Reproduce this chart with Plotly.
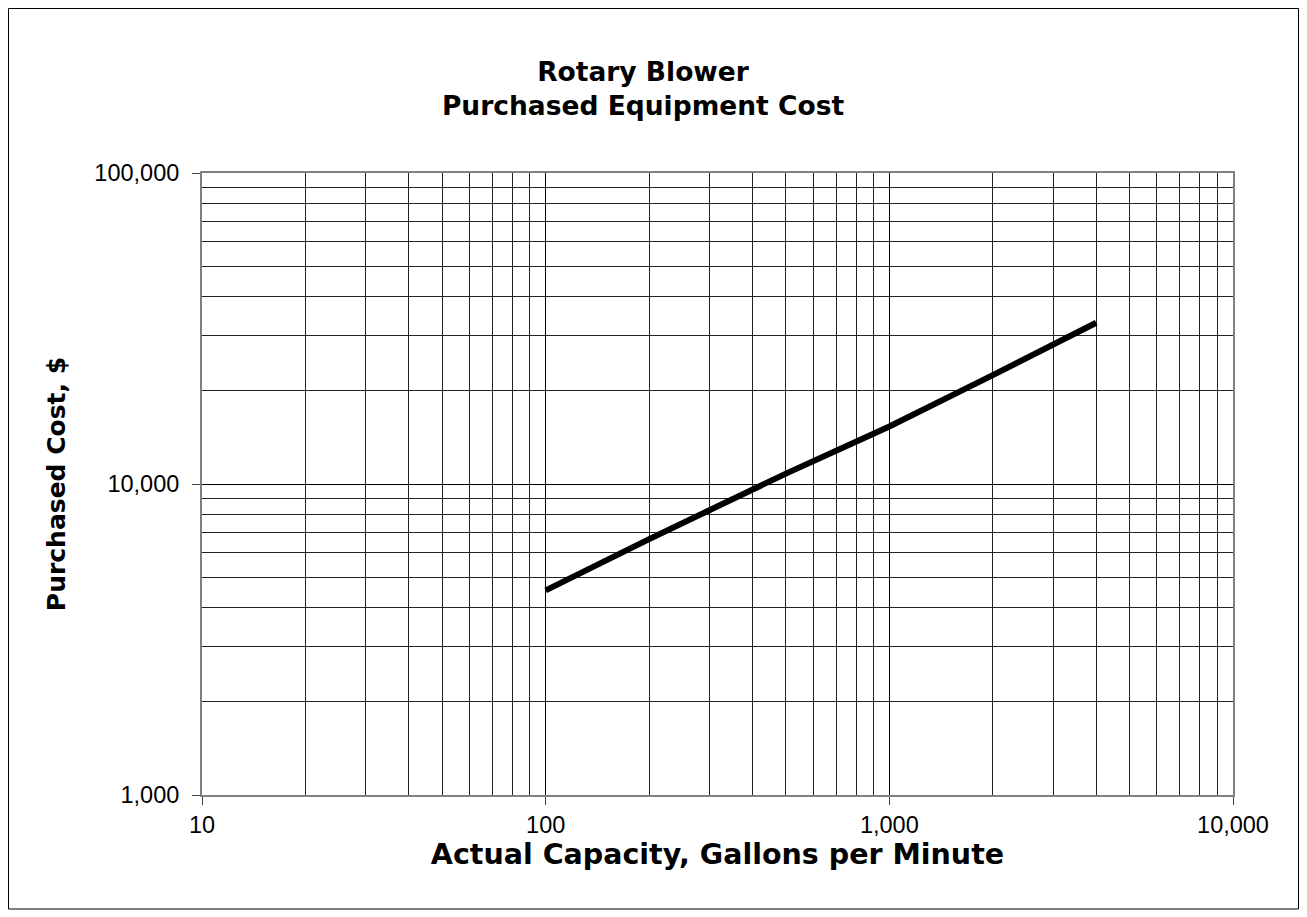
import plotly.graph_objects as go

# Data
capacity_gpm = [100, 200, 500, 1000, 2000, 4000]
purchased_cost = [4550, 6650, 10800, 15300, 22400, 33000]

x_tick_vals = [10, 100, 1000, 10000]
x_tick_text = ["10", "100", "1,000", "10,000"]
y_tick_vals = [1000, 10000, 100000]
y_tick_text = ["1,000", "10,000", "100,000"]

FONT = "Liberation Sans, Arial, sans-serif"
BOLD = "DejaVu Sans, Liberation Sans, Arial, sans-serif"

fig = go.Figure()
fig.add_trace(go.Scatter(
    x=capacity_gpm, y=purchased_cost, mode="lines",
    line=dict(color="black", width=6), showlegend=False, hoverinfo="x+y",
))

# page body has an 8px margin, so the figure origin is at (8, 8) on screen
W, H = 1299, 909
L, T = 194, 165
R, B = 74, 122
pw, ph = W - L - R, H - T - B

axis_common = dict(
    type="log", showline=True, linecolor="#808080", linewidth=2, mirror=True,
    ticks="outside", ticklen=8, tickcolor="#444444", tickwidth=1,
    showgrid=True, gridcolor="black", gridwidth=1,
    minor=dict(dtick="D1", showgrid=True, gridcolor="#222222", gridwidth=1, ticks=""),
    tickfont=dict(family=FONT, size=23.5, color="black"), zeroline=False,
)

fig.update_xaxes(
    **axis_common, range=[1, 4], tickvals=x_tick_vals, ticktext=x_tick_text,
    ticklabelstandoff=0,
    title=dict(text="<b>Actual Capacity, Gallons per Minute</b>",
               font=dict(family=BOLD, size=28.5, color="black"), standoff=0),
)
fig.update_yaxes(
    **axis_common, range=[3, 5], tickvals=y_tick_vals, ticktext=y_tick_text,
    ticklabelstandoff=8,
    title=dict(text="<b>Purchased Cost, $</b>",
               font=dict(family=BOLD, size=25, color="black"), standoff=22),
)

fig.add_shape(
    type="rect", xref="paper", yref="paper",
    x0=(0.5 - L) / pw, x1=(1290.5 - L) / pw,
    y0=(H - B - 901) / ph, y1=(H - B - 0.5) / ph,
    line=dict(color="black", width=1), fillcolor="rgba(0,0,0,0)", layer="below",
)

fig.update_layout(
    width=W, height=H,
    margin=dict(l=L, r=R, t=T, b=B),
    paper_bgcolor="white", plot_bgcolor="white",
    title=dict(
        text="<b>Rotary Blower</b><br><b>Purchased Equipment Cost</b>",
        x=635 / W, xanchor="center", y=1 - 72.5 / H, yanchor="middle",
        font=dict(family=BOLD, size=26.5, color="black"),
    ),
)

fig.write_html("out.html")
